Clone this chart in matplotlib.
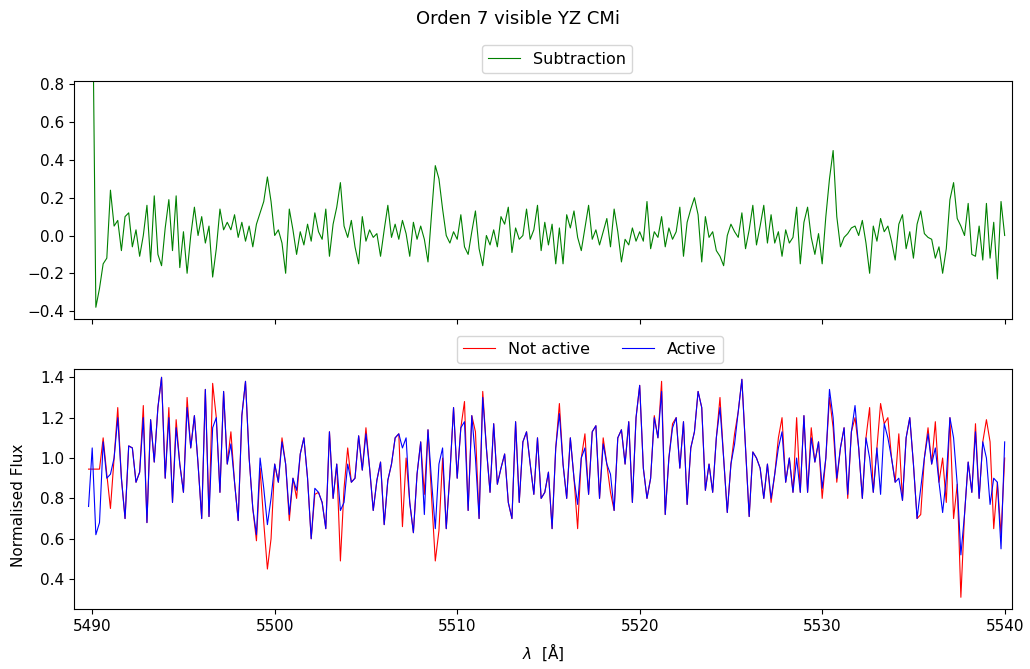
import numpy as np
import matplotlib
matplotlib.use("Agg")
import matplotlib.pyplot as plt

# wavelength grids (0.2 A sampling)
wl_start_sub = 5490.0
wl_start_flux = 5489.8
wl_step = 0.2

# Subtraction (active - not active), 5490.0 ... 5540.0
subtraction = [
    1.50, -0.38, -0.28, -0.15, -0.12, 0.24, 0.05, 0.08, -0.08, 0.10,
    0.12, -0.06, 0.03, -0.11, 0.00, 0.16, -0.14, 0.21, -0.10, -0.16,
    0.04, 0.19, -0.08, 0.21, -0.17, 0.02, -0.20, 0.00, 0.15, 0.00,
    0.10, -0.04, 0.05, -0.22, -0.07, 0.14, 0.03, 0.07, 0.03, 0.11,
    -0.01, 0.07, -0.03, 0.05, -0.06, 0.06, 0.12, 0.18, 0.31, 0.18,
    0.00, 0.03, -0.04, -0.20, 0.14, 0.03, -0.10, 0.02, -0.05, 0.06,
    -0.03, 0.12, 0.02, -0.02, 0.14, -0.11, 0.06, 0.15, 0.28, 0.05,
    -0.01, 0.08, -0.06, -0.15, 0.10, -0.03, 0.03, -0.01, 0.01, -0.11,
    0.03, 0.16, -0.01, 0.06, -0.02, 0.08, 0.01, -0.11, 0.07, -0.02,
    0.05, -0.02, -0.14, 0.12, 0.37, 0.30, 0.14, 0.00, -0.04, 0.02,
    -0.02, 0.11, -0.06, -0.10, 0.02, 0.13, -0.07, -0.16, 0.00, -0.05,
    0.03, -0.06, 0.10, 0.06, 0.15, -0.09, 0.04, -0.02, 0.00, 0.14,
    -0.02, 0.03, 0.16, -0.08, 0.07, -0.05, 0.06, -0.15, 0.04, -0.15,
    0.11, 0.04, 0.13, -0.01, -0.08, 0.04, 0.16, -0.02, 0.03, -0.05,
    0.02, 0.09, -0.06, 0.14, 0.02, -0.14, -0.02, -0.05, 0.04, -0.03,
    0.02, -0.03, 0.18, -0.07, 0.02, -0.01, 0.10, -0.06, 0.04, -0.02,
    0.02, 0.15, -0.11, 0.07, 0.14, 0.20, 0.11, -0.14, 0.10, -0.01,
    0.02, -0.08, -0.11, -0.16, 0.00, 0.06, 0.02, -0.01, 0.12, -0.07,
    0.03, 0.16, -0.05, 0.05, 0.16, -0.04, 0.11, -0.04, 0.02, -0.11,
    0.03, -0.04, -0.01, 0.15, -0.15, 0.07, 0.15, -0.01, -0.10, 0.01,
    -0.15, 0.10, 0.30, 0.45, 0.10, -0.06, -0.01, 0.01, 0.04, 0.05,
    0.00, 0.08, -0.04, -0.20, 0.05, -0.03, 0.09, 0.02, 0.05, -0.03,
    -0.13, 0.06, 0.11, -0.07, 0.02, -0.12, 0.06, 0.13, 0.01, -0.01,
    -0.02, -0.12, -0.06, -0.20, -0.07, 0.19, 0.28, 0.09, 0.05, 0.00,
    0.17, -0.10, -0.11, 0.05, -0.13, 0.17, -0.12, 0.07, -0.23, 0.18,
    0.00,
]

# normalised flux, 5489.8 ... 5540.0
not_active = [
    0.945, 0.945, 0.945, 0.945, 1.10, 0.92, 0.75, 1.00, 1.25, 0.90,
    0.70, 1.06, 1.05, 0.88, 0.93, 1.26, 0.68, 1.19, 0.98, 1.25,
    1.40, 0.90, 1.25, 0.78, 1.19, 0.97, 0.83, 1.30, 1.05, 1.21,
    0.97, 0.70, 1.34, 0.71, 1.37, 1.20, 0.83, 1.33, 0.97, 1.13,
    0.88, 0.69, 1.21, 1.38, 1.00, 0.75, 0.59, 0.95, 0.68, 0.45,
    0.60, 0.97, 0.88, 1.10, 0.97, 0.69, 0.90, 0.80, 1.02, 1.10,
    0.90, 0.60, 0.82, 0.83, 0.78, 0.65, 1.13, 0.80, 0.97, 0.49,
    0.85, 1.05, 0.88, 0.90, 1.11, 0.94, 1.15, 0.95, 0.74, 0.89,
    0.98, 0.67, 0.89, 0.97, 1.10, 1.12, 0.66, 1.00, 0.78, 0.63,
    0.92, 1.08, 0.82, 1.14, 0.80, 0.49, 0.64, 1.00, 0.65, 0.92,
    1.25, 0.90, 1.15, 1.28, 0.74, 1.21, 1.13, 0.70, 1.33, 1.05,
    0.83, 1.17, 0.87, 0.95, 1.02, 0.78, 0.70, 1.18, 0.78, 1.08,
    1.13, 0.97, 0.82, 1.10, 0.80, 0.83, 0.93, 0.65, 1.05, 1.27,
    0.97, 0.80, 1.10, 0.90, 0.65, 1.00, 1.12, 0.82, 1.13, 1.16,
    0.80, 1.10, 0.97, 0.83, 0.74, 1.10, 1.14, 0.97, 1.18, 0.78,
    1.20, 1.36, 0.95, 0.80, 0.90, 1.21, 1.10, 1.38, 0.72, 1.00,
    1.17, 1.20, 0.95, 1.18, 0.77, 1.05, 1.13, 1.33, 1.25, 0.84,
    0.97, 0.83, 1.10, 1.30, 1.00, 0.73, 0.97, 1.12, 1.23, 1.39,
    1.05, 0.71, 1.03, 1.00, 0.95, 0.80, 0.97, 0.78, 0.92, 1.10,
    1.20, 0.88, 1.00, 0.83, 1.20, 0.83, 1.21, 0.83, 1.15, 0.98,
    1.08, 0.80, 1.00, 1.30, 1.15, 0.88, 1.05, 1.15, 0.80, 1.13,
    1.20, 1.05, 0.80, 1.10, 1.25, 0.83, 1.05, 1.27, 1.17, 1.20,
    1.00, 0.88, 1.12, 0.79, 1.10, 1.20, 0.97, 0.70, 0.72, 1.00,
    1.15, 0.97, 1.18, 0.88, 1.00, 0.78, 1.20, 0.70, 0.87, 0.31,
    0.72, 0.98, 0.83, 1.17, 0.80, 1.08, 1.19, 1.08, 0.65, 0.88,
    0.62, 1.00,
]

active = [
    0.76, 1.05, 0.62, 0.68, 1.08, 0.90, 0.92, 1.00, 1.20, 0.90,
    0.70, 1.06, 1.05, 0.88, 0.93, 1.20, 0.68, 1.19, 0.98, 1.25,
    1.40, 0.90, 1.20, 0.78, 1.15, 0.97, 0.83, 1.25, 1.05, 1.21,
    0.97, 0.70, 1.34, 0.71, 1.15, 1.20, 0.83, 1.33, 0.97, 1.07,
    0.88, 0.69, 1.21, 1.38, 1.00, 0.75, 0.62, 1.00, 0.85, 0.67,
    0.80, 0.97, 0.88, 1.08, 0.97, 0.72, 0.90, 0.84, 1.02, 1.10,
    0.90, 0.60, 0.85, 0.83, 0.78, 0.65, 1.13, 0.80, 0.97, 0.74,
    0.78, 0.97, 0.88, 0.90, 1.11, 0.94, 1.12, 0.95, 0.74, 0.89,
    0.98, 0.67, 0.89, 0.97, 1.10, 1.12, 1.05, 1.10, 0.78, 0.63,
    0.92, 1.08, 0.72, 1.14, 0.88, 0.65, 0.97, 1.05, 0.65, 0.92,
    1.25, 0.90, 1.15, 1.18, 0.74, 1.21, 1.00, 0.70, 1.30, 1.05,
    0.83, 1.17, 0.87, 0.95, 1.02, 0.78, 0.70, 1.18, 0.78, 1.08,
    1.13, 0.97, 0.82, 1.10, 0.80, 0.83, 0.93, 0.65, 1.05, 1.22,
    0.97, 0.80, 1.10, 0.90, 0.77, 1.00, 1.05, 0.82, 1.13, 1.16,
    0.80, 1.07, 0.97, 0.92, 0.74, 1.10, 1.14, 0.97, 1.18, 0.78,
    1.20, 1.36, 0.95, 0.80, 0.90, 1.20, 1.10, 1.33, 0.72, 1.00,
    1.15, 1.20, 0.95, 1.18, 0.77, 1.05, 1.13, 1.33, 1.25, 0.84,
    0.97, 0.83, 1.10, 1.25, 1.00, 0.73, 0.97, 1.07, 1.23, 1.39,
    1.05, 0.71, 1.03, 1.00, 0.95, 0.80, 0.97, 0.80, 0.92, 1.05,
    1.13, 0.88, 1.00, 0.83, 1.00, 0.83, 1.21, 0.83, 1.10, 0.98,
    1.08, 0.85, 1.00, 1.34, 1.20, 0.90, 1.05, 1.15, 0.82, 1.13,
    1.26, 1.05, 0.80, 1.10, 1.00, 0.83, 1.05, 0.82, 1.17, 1.10,
    1.00, 0.88, 0.90, 0.79, 1.10, 1.20, 0.97, 0.70, 0.85, 1.00,
    1.12, 0.97, 1.05, 0.88, 0.73, 0.90, 1.20, 1.10, 0.87, 0.52,
    0.72, 0.98, 0.83, 1.13, 0.80, 1.08, 1.00, 0.77, 0.90, 0.88,
    0.55, 1.08,
]

wl_sub = wl_start_sub + wl_step * np.arange(len(subtraction))
wl_flux = wl_start_flux + wl_step * np.arange(len(active))

plt.rcParams["font.size"] = 11

fig = plt.figure(figsize=(10.30, 6.69), dpi=100)
ax1 = fig.add_axes([0.0718, 0.5232, 0.9107, 0.3557])
ax2 = fig.add_axes([0.0718, 0.0897, 0.9107, 0.3587], sharex=ax1)

ax1.plot(wl_sub, subtraction, color="green", lw=0.8, label="Subtraction")
ax1.set_ylim(-0.442, 0.818)
ax1.tick_params(labelbottom=False)
ax1.legend(loc="lower center", bbox_to_anchor=(0.515, 1.0), borderaxespad=0.5,
           fontsize=11.5)

ax2.plot(wl_flux, not_active, color="red", lw=0.8, label="Not active")
ax2.plot(wl_flux, active, color="blue", lw=0.8, label="Active")
ax2.set_ylim(0.252, 1.441)
ax2.set_xlim(5489.0, 5540.4)
ax2.set_xticks([5490, 5500, 5510, 5520, 5530, 5540])
ax2.set_xlabel(r"$\lambda$  [Å]", labelpad=6)
ax2.legend(loc="lower center", bbox_to_anchor=(0.55, 1.0), ncol=2, borderaxespad=0.35,
           fontsize=11.5)

fig.text(0.0175, 0.245, "Normalised Flux", rotation=90, ha="center", va="center")
fig.suptitle("Orden 7 visible YZ CMi", x=0.503, y=0.985, fontsize=13)

fig.savefig("out.png", dpi=100)
